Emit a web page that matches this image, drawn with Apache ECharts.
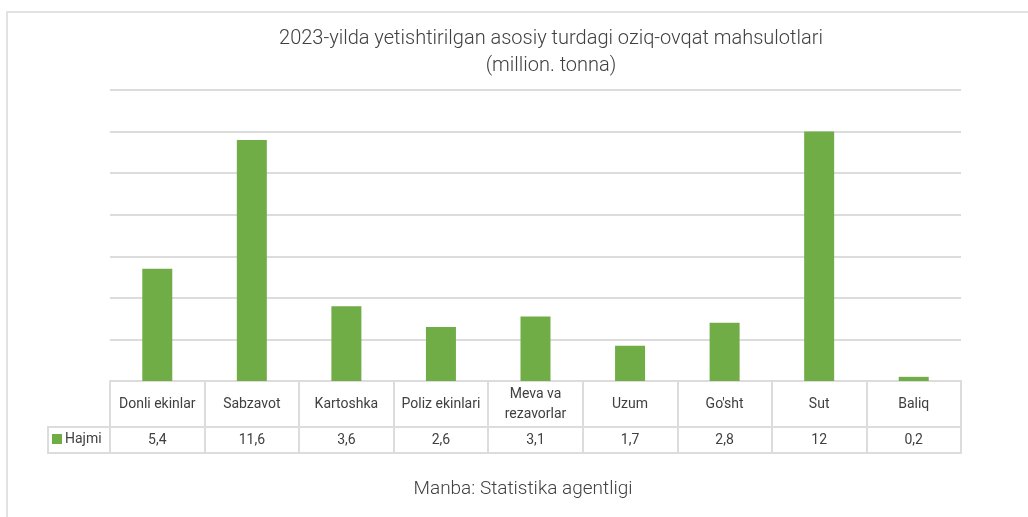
<!DOCTYPE html>
<html lang="uz">
<head>
    <meta charset="UTF-8">
    <title>Oziq-ovqat mahsulotlari 2023</title>
    <script src="https://cdn.jsdelivr.net/npm/echarts@6/dist/echarts.min.js" charset="utf-8"></script>
    <style>
        html, body {margin: 0; padding: 0; background: #fff;}
        #main {width: 1028px; height: 517px;}
    </style>
</head>
<body>
<div id="main"></div>
<script>
    // ma'lumotlar
    var categories = ['Donli ekinlar', 'Sabzavot', 'Kartoshka', 'Poliz ekinlari', 'Meva va\nrezavorlar', 'Uzum', "Go'sht", 'Sut', 'Baliq'];
    var values = [5.4, 11.6, 3.6, 2.6, 3.1, 1.7, 2.8, 12, 0.2];
    var valueLabels = ['5,4', '11,6', '3,6', '2,6', '3,1', '1,7', '2,8', '12', '0,2'];
    var seriesName = 'Hajmi';

    var lineColor = '#dcdcdc';
    var textColor = '#404040';
    var font = 'Roboto';

    var myChart = echarts.init(document.getElementById('main'));
    var option = {
        animation: false,
        title: [{
            text: '2023-yilda yetishtirilgan asosiy turdagi oziq-ovqat mahsulotlari\n(million. tonna)',
            left: 551,
            top: 25,
            padding: 0,
            textAlign: 'center',
            textStyle: {
                fontFamily: font,
                fontWeight: 300,
                fontSize: 20,
                lineHeight: 27,
                color: textColor
            }
        }, {
            text: 'Manba: Statistika agentligi',
            left: 523,
            top: 480,
            padding: 0,
            textAlign: 'center',
            textStyle: {
                fontFamily: font,
                fontWeight: 300,
                fontSize: 19,
                color: textColor
            }
        }],
        legend: {
            data: [seriesName],
            left: 52,
            top: 432,
            padding: 0,
            icon: 'rect',
            itemWidth: 10,
            itemHeight: 10,
            itemGap: 4,
            textStyle: {fontFamily: font, fontSize: 14, color: textColor, padding: [0, 0, 0, -2]}
        },
        grid: {
            left: 110,
            right: 67,
            top: 90,
            bottom: 136
        },
        graphic: [{
            type: 'rect',
            shape: {x: 7, y: 12, width: 1200, height: 700},
            style: {fill: null, stroke: '#e2e2e2', lineWidth: 2},
            silent: true
        }, {
            type: 'rect',
            shape: {x: 48, y: 427, width: 62, height: 26},
            style: {fill: null, stroke: lineColor, lineWidth: 2},
            silent: true
        }],
        xAxis: [{
            type: 'category',
            data: categories,
            axisLine: {show: true, lineStyle: {color: lineColor, width: 2}},
            axisTick: {show: true, interval: 0, length: 72, lineStyle: {color: lineColor, width: 2}},
            axisLabel: {
                interval: 0,
                margin: 23,
                verticalAlign: 'middle',
                fontFamily: font,
                fontSize: 14,
                lineHeight: 20,
                color: textColor
            }
        }, {
            type: 'category',
            data: categories,
            position: 'bottom',
            offset: 46,
            axisLine: {show: true, lineStyle: {color: lineColor, width: 2}},
            axisTick: {show: false},
            axisLabel: {
                interval: 0,
                margin: 13,
                verticalAlign: 'middle',
                fontFamily: font,
                fontSize: 14,
                color: textColor,
                formatter: function (v, i) {
                    return valueLabels[i];
                }
            }
        }, {
            type: 'category',
            data: categories,
            position: 'bottom',
            offset: 72,
            axisLine: {show: true, lineStyle: {color: lineColor, width: 2}},
            axisTick: {show: false},
            axisLabel: {show: false}
        }],
        yAxis: {
            type: 'value',
            min: 0,
            max: 14,
            interval: 2,
            axisLine: {show: false},
            axisTick: {show: false},
            axisLabel: {show: false},
            splitLine: {lineStyle: {color: lineColor, width: 2}}
        },
        series: [{
            name: seriesName,
            type: 'bar',
            data: values,
            barWidth: 30,
            itemStyle: {color: '#70ad47'}
        }]
    };

    myChart.setOption(option);
    window.addEventListener('resize', function () {
        myChart.resize();
    });
</script>
</body>
</html>
